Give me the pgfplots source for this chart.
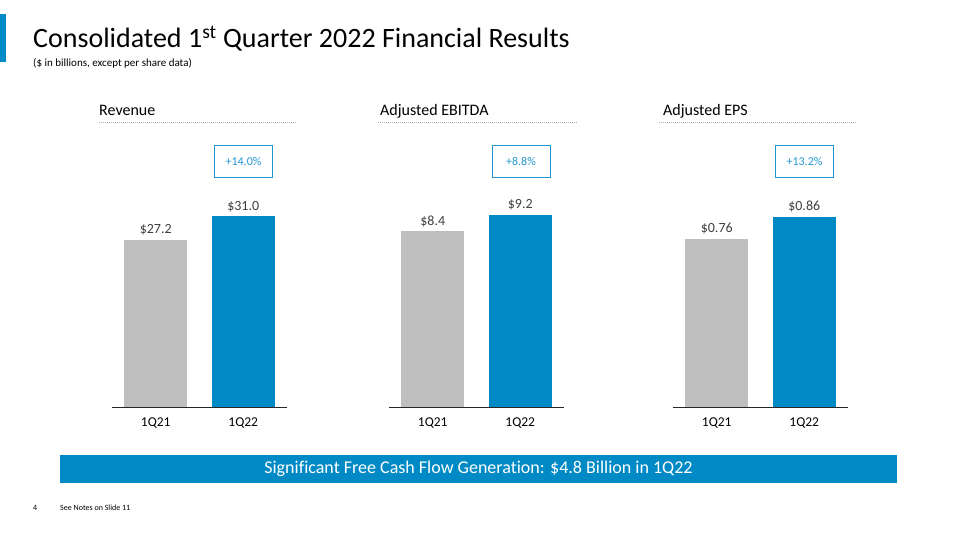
\documentclass[border=0pt]{standalone}
\usepackage{fontspec}
\setmainfont{Carlito}[Ligatures=CommonOff]
\usepackage{pgfplots}
\pgfplotsset{compat=1.18}

\definecolor{barblue}{RGB}{0,138,197}
\definecolor{bargray}{RGB}{191,191,191}
\definecolor{valtext}{RGB}{64,64,64}
\definecolor{boxtext}{RGB}{38,150,210}
\definecolor{boxline}{RGB}{30,150,208}
\definecolor{dotgray}{RGB}{175,175,175}

\pgfplotsset{kpi/.style={
    scale only axis, width=175pt, height=250pt, anchor=south west,
    ybar, bar width=63pt,
    xmin=-0.5, xmax=1.5, ymin=0,
    axis x line*=bottom, axis y line=none,
    x axis line style={-, line width=0.8pt, color=black!85},
    xtick={0,1}, xticklabels={1Q21,1Q22}, major tick length=0pt,
    xticklabel style={font=\fontsize{13.5}{16}\selectfont, yshift=-7pt},
    clip=false,
    every node near coord/.append style={font=\fontsize{14}{16}\selectfont, text=valtext, yshift=1pt},
    /pgf/number format/assume math mode=true,
}}

\begin{document}
\begin{tikzpicture}
% slide frame, 1pt = 1px
\path[fill=white, use as bounding box] (0pt,0pt) rectangle (960pt,540pt);
\fill[barblue] (0pt,478pt) rectangle (6pt,526pt);
\node[anchor=base west, inner sep=0, font=\fontsize{28}{32}\selectfont] at (33pt,492pt)
  {Consolidated 1\textsuperscript{st} Quarter 2022 Financial Results};
\node[anchor=base west, inner sep=0, font=\fontsize{11}{13}\selectfont] at (33pt,473pt)
  {(\$ in billions, except per share data)};

% panel headers
\node[anchor=base west, inner sep=0, font=\fontsize{16}{19}\selectfont] at (99pt,424pt) {Revenue};
\node[anchor=base west, inner sep=0, font=\fontsize{16}{19}\selectfont] at (380pt,424pt) {Adjusted EBITDA};
\node[anchor=base west, inner sep=0, font=\fontsize{16}{19}\selectfont] at (663pt,424pt) {Adjusted EPS};
\begin{scope}[dotgray, line width=0.6pt, dash pattern=on 0.6pt off 1.4pt]
\draw (99pt,418pt) -- (297pt,418pt);
\draw (378pt,418pt) -- (577pt,418pt);
\draw (659pt,418pt) -- (857pt,418pt);
\end{scope}

% growth boxes
\begin{scope}[every node/.style={draw=boxline, line width=1pt, minimum width=58pt,
    minimum height=32pt, text=boxtext, font=\fontsize{12}{14}\selectfont}]
\node at (243.5pt,378.5pt) {+14.0\%};
\node at (521pt,378.5pt) {+8.8\%};
\node at (804.5pt,378.5pt) {+13.2\%};
\end{scope}

% Revenue
\begin{axis}[kpi, at={(112pt,133pt)}, ymax=40.65,
    nodes near coords={\$\pgfmathprintnumber[fixed,fixed zerofill,precision=1]{\pgfplotspointmeta}}]
\addplot[fill=bargray, draw=none, bar shift=0pt] coordinates {(0,27.2)};
\addplot[fill=barblue, draw=none, bar shift=0pt] coordinates {(1,31.0)};
\end{axis}

% Adjusted EBITDA
\begin{axis}[kpi, at={(389pt,133pt)}, ymax=11.96,
    nodes near coords={\$\pgfmathprintnumber[fixed,fixed zerofill,precision=1]{\pgfplotspointmeta}}]
\addplot[fill=bargray, draw=none, bar shift=0pt] coordinates {(0,8.4)};
\addplot[fill=barblue, draw=none, bar shift=0pt] coordinates {(1,9.2)};
\end{axis}

% Adjusted EPS
\begin{axis}[kpi, at={(673pt,133pt)}, ymax=1.131,
    nodes near coords={\$\pgfmathprintnumber[fixed,fixed zerofill,precision=2]{\pgfplotspointmeta}}]
\addplot[fill=bargray, draw=none, bar shift=0pt] coordinates {(0,0.76)};
\addplot[fill=barblue, draw=none, bar shift=0pt] coordinates {(1,0.86)};
\end{axis}

% banner and footer
\fill[barblue] (60pt,57pt) rectangle (897pt,85pt);
\node[text=white, font=\fontsize{18}{21}\selectfont] at (478.5pt,71pt)
  {Significant Free Cash Flow Generation: \$4.8 Billion in 1Q22};
\node[anchor=base west, inner sep=0, font=\fontsize{8}{9}\selectfont] at (33pt,29pt) {4};
\node[anchor=base west, inner sep=0, font=\fontsize{8}{9}\selectfont] at (60pt,29pt) {See Notes on Slide 11};
\end{tikzpicture}
\end{document}
